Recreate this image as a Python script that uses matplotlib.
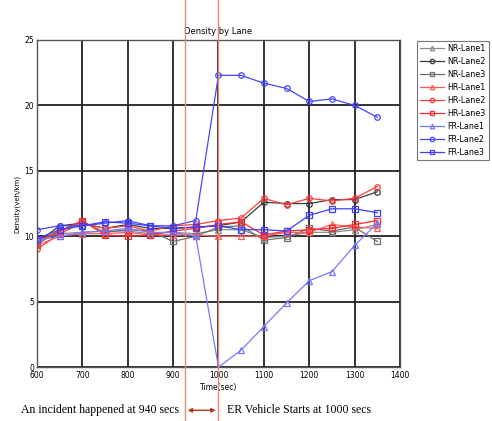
import matplotlib
matplotlib.use('Agg')
import matplotlib.pyplot as plt

times = [600, 650, 700, 750, 800, 850, 900, 950, 1000, 1050, 1100, 1150, 1200, 1250, 1300, 1350]

nr_lane1 = [9.8, 10.2, 10.3, 10.4, 10.4, 10.2, 10.3, 10.2, 10.5, 10.5, 9.9, 10.0, 10.3, 10.3, 10.5, 10.9]
nr_lane2 = [9.5, 10.8, 11.0, 10.6, 10.9, 10.6, 10.6, 10.7, 10.8, 11.1, 12.6, 12.5, 12.5, 12.8, 12.8, 13.4]
nr_lane3 = [9.4, 10.4, 11.1, 10.3, 10.5, 10.4, 9.6, 10.0, 10.7, 10.8, 9.7, 9.9, 10.6, 10.4, 10.7, 9.6]
hr_lane1 = [9.3, 10.0, 10.2, 10.2, 10.3, 10.1, 10.1, 10.1, 10.0, 10.0, 10.0, 10.3, 10.3, 10.9, 10.7, 10.6]
hr_lane2 = [9.0, 10.2, 11.0, 10.6, 10.8, 10.4, 10.8, 10.9, 11.2, 11.4, 12.9, 12.4, 12.9, 12.7, 12.9, 13.8]
hr_lane3 = [9.6, 10.4, 11.2, 10.1, 10.0, 10.1, 10.4, 10.6, 10.9, 11.1, 10.1, 10.4, 10.5, 10.6, 10.9, 11.2]
fr_lane1 = [9.7, 10.0, 10.3, 10.4, 10.6, 10.3, 10.3, 10.0, 0.0, 1.3, 3.1, 4.9, 6.6, 7.3, 9.3, 11.0]
fr_lane2 = [10.5, 10.8, 10.8, 11.0, 11.2, 10.8, 10.8, 11.2, 22.3, 22.3, 21.7, 21.3, 20.3, 20.5, 20.0, 19.1]
fr_lane3 = [9.8, 10.5, 10.8, 11.1, 11.0, 10.8, 10.6, 10.7, 10.8, 10.5, 10.5, 10.4, 11.6, 12.1, 12.1, 11.8]

series = [
    ('NR-Lane1', nr_lane1, '#8c8c8c', '^'),
    ('NR-Lane2', nr_lane2, '#3c3c3c', 'o'),
    ('NR-Lane3', nr_lane3, '#6e6e6e', 's'),
    ('HR-Lane1', hr_lane1, '#ff5a5a', '^'),
    ('HR-Lane2', hr_lane2, '#ff3c3c', 'o'),
    ('HR-Lane3', hr_lane3, '#ff2828', 's'),
    ('FR-Lane1', fr_lane1, '#7878ff', '^'),
    ('FR-Lane2', fr_lane2, '#4646ff', 'o'),
    ('FR-Lane3', fr_lane3, '#3c3cff', 's'),
]

incident_time = 926
er_time = 1000

fig = plt.figure(figsize=(4.92, 4.21), dpi=100)
ax = fig.add_axes([0.075, 0.128, 0.738, 0.777])

for name, vals, col, mk in series:
    ax.plot(times, vals, color=col, marker=mk, markersize=4, markerfacecolor='none',
            markeredgecolor=col, markeredgewidth=0.9, linewidth=0.9, label=name)

ax.set_xlim(600, 1400)
ax.set_ylim(0, 25)
ax.set_xticks(range(600, 1401, 100))
ax.set_yticks([0, 5, 10, 15, 20, 25])
ax.grid(color='#222222', linewidth=1.3)
ax.set_axisbelow(True)
ax.tick_params(labelsize=5.5, length=0, pad=2)
ax.tick_params(axis='x', pad=3)
for s in ax.spines.values():
    s.set_color('#555555')
    s.set_linewidth(1.0)

ax.set_title('Density by Lane', fontsize=6, pad=4)
ax.set_xlabel('Time(sec)', fontsize=5.5, labelpad=2)
ax.set_ylabel('Density(veh/km)', fontsize=5, labelpad=3)

leg = ax.legend(loc='upper left', bbox_to_anchor=(1.035, 1.01), fontsize=5.8,
                frameon=True, fancybox=False, edgecolor='#555555',
                handlelength=3.0, handletextpad=0.4, borderpad=0.4, labelspacing=0.5,
                markerscale=0.8)
leg.get_frame().set_linewidth(0.8)

# incident / ER start markers across the whole figure
for t in [incident_time, er_time]:
    ax.axvline(t, ymin=-0.17, ymax=1.13, color='#e08a78', linewidth=1.0, clip_on=False, zorder=5)

ax.annotate('', xy=(incident_time, -3.3), xytext=(er_time, -3.3),
            arrowprops=dict(arrowstyle='<|-|>', color='#b03a1e', lw=1.0, mutation_scale=6),
            annotation_clip=False)
ax.text(incident_time - 12, -3.3, 'An incident happened at 940 secs', fontsize=8.5,
        family='Liberation Serif', ha='right', va='center', clip_on=False)
ax.text(er_time + 18, -3.3, 'ER Vehicle Starts at 1000 secs', fontsize=8.5,
        family='Liberation Serif', ha='left', va='center', clip_on=False)

fig.savefig('out.png', dpi=100)
